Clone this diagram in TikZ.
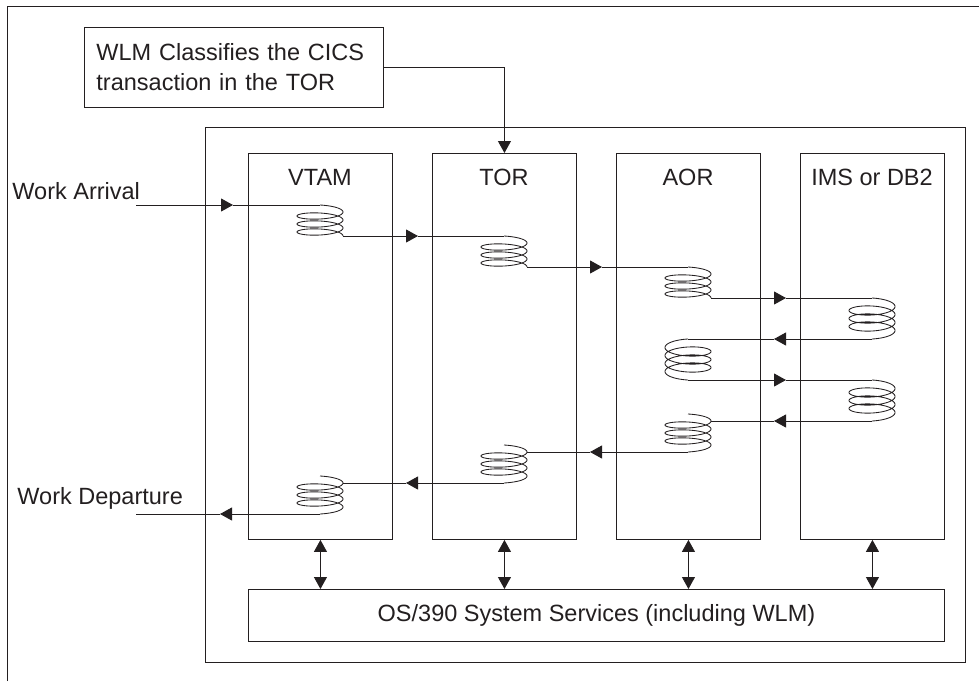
\documentclass[tikz,border=0pt]{standalone}
\usepackage{fontspec}
\setmainfont{Liberation Sans}
\usetikzlibrary{arrows.meta}
\definecolor{ink}{HTML}{231F20}
\begin{document}
\begin{tikzpicture}[x=1pt,y=-1pt, line width=0.9pt, draw=ink, text=ink,
  box/.style={draw=ink, line width=0.9pt, inner sep=0pt},
  tri/.style={-{Triangle[length=12pt,width=13pt]}},
  dbl/.style={{Triangle[length=12pt,width=13pt]}-{Triangle[length=12pt,width=13pt]}},
  lbl/.style={font=\fontsize{23.5}{28}\selectfont, inner sep=0pt},
  coilline/.style={draw=ink, line width=0.85pt},
  fwdcoil/.pic={\draw[coilline] plot[domain=0:1170,samples=360,smooth] ({23*sin(\x)},{5*(1-cos(\x))+8*\x/360});
    \coordinate (-in) at (0,0); \coordinate (-out) at (23,31);},
  imscoil/.pic={\draw[coilline] plot[domain=0:1260,samples=380,smooth] ({23*sin(\x)},{6.5*(1-cos(\x))+8*\x/360});
    \coordinate (-in) at (0,0); \coordinate (-out) at (0,41);},
  mircoil/.pic={\draw[coilline] plot[domain=0:1260,samples=380,smooth] ({-23*sin(\x)},{6.5*(1-cos(\x))+8*\x/360});
    \coordinate (-in) at (0,0); \coordinate (-out) at (0,41);},
  retcoil/.pic={\draw[coilline] plot[domain=0:1260,samples=380,smooth] ({23*sin(\x)},{5*(1-cos(\x))+8*\x/360});
    \coordinate (-in) at (23,7); \coordinate (-out) at (0,38);}
]
\useasboundingbox (0,0) rectangle (979,681);
% outer L frame
\coordinate (fBL) at (7,681);
\coordinate (fTL) at (7,6);
\coordinate (fTR) at (979,6);
\draw (fBL) -- (fTL) -- (fTR);

% WLM box
\node[box, anchor=north west, minimum height=80pt, text width=275pt, inner xsep=12pt, align=left,
      font=\fontsize{23.5}{30}\selectfont] (wlm) at (84,27) {WLM Classifies the CICS\\transaction in the TOR};

% main frame
\node[box, anchor=north west, minimum width=760pt, minimum height=535pt] (mainf) at (205,127) {};

% columns
\node[box, anchor=north west, minimum width=144pt, minimum height=386pt] (vtam) at (248,153) {};
\node[box, anchor=north west, minimum width=144pt, minimum height=386pt] (tor)  at (432,153) {};
\node[box, anchor=north west, minimum width=144pt, minimum height=386pt] (aor)  at (616,153) {};
\node[box, anchor=north west, minimum width=144pt, minimum height=386pt] (ims)  at (800,153) {};
\node[lbl] (lvtam) at (320,177) {VTAM};
\node[lbl] (ltor)  at (504,177) {TOR};
\node[lbl] (laor)  at (688,177) {AOR};
\node[lbl] (lims)  at (872,177) {IMS or DB2};

% OS box
\node[box, anchor=north west, minimum width=696pt, minimum height=52pt, font=\fontsize{23.5}{28}\selectfont] (osbox) at (248,589) {OS/390 System Services (including WLM)};

% WLM connector
\draw[tri] (wlm.east) -| (tor.north);

% double arrows
\draw[dbl] (vtam.south) -- (vtam.south |- osbox.north);
\draw[dbl] (tor.south) -- (tor.south |- osbox.north);
\draw[dbl] (aor.south) -- (aor.south |- osbox.north);
\draw[dbl] (ims.south) -- (ims.south |- osbox.north);

% side labels
\node[lbl, anchor=west] (warr) at (12,191) {Work Arrival};
\node[lbl, anchor=west] (wdep) at (17,498) {Work Departure};
\coordinate (arrS) at (136,205);
\coordinate (depE) at (136,0);

% coils
\pic (v1) at (320,205) {fwdcoil};
\pic (t1) at (504,236) {fwdcoil};
\pic (a1) at (688,267) {fwdcoil};
\pic (i1) at (872,298) {imscoil};
\pic (a2) at (688,339) {mircoil};
\pic (i2) at (872,380) {imscoil};
\pic (a3) at (688,414) {retcoil};
\pic (t2) at (504,445) {retcoil};
\pic (v2) at (320,476) {retcoil};

% arrow tip x positions
\coordinate (gR0) at (233,0);
\coordinate (gR1) at (418,0);
\coordinate (gR2) at (602,0);
\coordinate (gR3) at (786,0);
\coordinate (gL0) at (220,0);
\coordinate (gL1) at (406,0);
\coordinate (gL2) at (590,0);
\coordinate (gL3) at (774,0);

% flow
\draw[tri] (arrS) -- (gR0 |- arrS);   \draw (gR0 |- arrS) -- (v1-in);
\draw[tri] (v1-out) -- (gR1 |- v1-out); \draw (gR1 |- v1-out) -- (t1-in);
\draw[tri] (t1-out) -- (gR2 |- t1-out); \draw (gR2 |- t1-out) -- (a1-in);
\draw[tri] (a1-out) -- (gR3 |- a1-out); \draw (gR3 |- a1-out) -- (i1-in);
\draw[tri] (i1-out) -- (gL3 |- i1-out); \draw (gL3 |- i1-out) -- (a2-in);
\draw[tri] (a2-out) -- (gR3 |- a2-out); \draw (gR3 |- a2-out) -- (i2-in);
\draw[tri] (i2-out) -- (gL3 |- i2-out); \draw (gL3 |- i2-out) -- (a3-in);
\draw[tri] (a3-out) -- (gL2 |- a3-out); \draw (gL2 |- a3-out) -- (t2-in);
\draw[tri] (t2-out) -- (gL1 |- t2-out); \draw (gL1 |- t2-out) -- (v2-in);
\draw[tri] (v2-out) -- (gL0 |- v2-out); \draw (gL0 |- v2-out) -- (depE |- v2-out);
\end{tikzpicture}
\end{document}
